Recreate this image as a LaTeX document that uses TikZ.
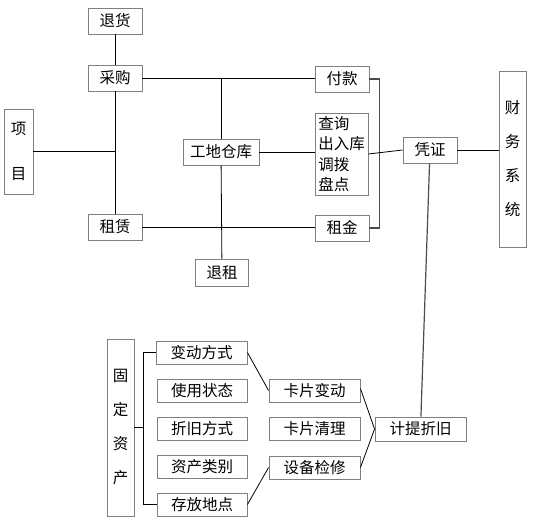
\documentclass[tikz,border=0pt]{standalone}
\usepackage{fontspec}
\setmainfont{Noto Sans CJK SC}
\usetikzlibrary{calc}

\begin{document}
\begin{tikzpicture}[x=1pt,y=-1pt,
  box/.style={draw=gray,line width=0.9pt,inner sep=0pt,align=center,
    font=\fontsize{15.5}{19}\selectfont},
  wire/.style={line width=0.8pt,black},
  gwire/.style={line width=1.2pt,gray!60!black}]
\useasboundingbox (0,0) rectangle (535,527);
% upper part
\node[box,minimum width=54,minimum height=26] (tuihuo) at (115,21) {退货};
\node[box,minimum width=54,minimum height=26] (caigou) at (115,78) {采购};
\node[box,minimum width=29,minimum height=85] (xiangmu) at (18.5,151.5) {项\\[26pt]目};
\node[box,minimum width=76,minimum height=26] (cangku) at (221,152) {工地仓库};
\node[box,minimum width=54,minimum height=26] (zulin) at (115,227) {租赁};
\node[box,minimum width=53,minimum height=27] (tuizu) at (222,272.5) {退租};
\node[box,minimum width=54,minimum height=26] (fukuan) at (342,79) {付款};
\node[box,minimum width=53,minimum height=82,align=left,
  font=\fontsize{15.5}{20.5}\selectfont] (chaxun) at (341.5,154) {查询\\出入库\\调拨\\盘点};
\node[box,minimum width=54,minimum height=26] (zujin) at (342,228) {租金};
\node[box,minimum width=54,minimum height=26] (pingzheng) at (430,150) {凭证};
\node[box,minimum width=27,minimum height=176] (caiwu) at (512.5,159)
  {财\\[15pt]务\\[15pt]系\\[15pt]统};
% lower part
\node[box,minimum width=27,minimum height=177] (guding) at (120.5,427.5)
  {固\\[15pt]定\\[15pt]资\\[15pt]产};
\node[box,minimum width=91,minimum height=23] (biandong) at (201.5,352.5) {变动方式};
\node[box,minimum width=90,minimum height=23] (shiyong) at (202,390.5) {使用状态};
\node[box,minimum width=90,minimum height=23] (zhejiu) at (202,428.5) {折旧方式};
\node[box,minimum width=90,minimum height=23] (leibie) at (202,466.5) {资产类别};
\node[box,minimum width=90,minimum height=23] (didian) at (202,504.5) {存放地点};
\node[box,minimum width=91,minimum height=23] (kpbd) at (314.5,390.5) {卡片变动};
\node[box,minimum width=91,minimum height=23] (kpql) at (314.5,428.5) {卡片清理};
\node[box,minimum width=91,minimum height=23] (jianxiu) at (314.5,467.5) {设备检修};
\node[box,minimum width=91,minimum height=24] (jiti) at (420.5,429) {计提折旧};
% connections
\draw[wire] (tuihuo) -- (caigou);
\draw[wire] (caigou) -- (zulin);
\draw[wire] (xiangmu) -- (xiangmu -| caigou);
\draw[wire] (caigou) -- (caigou -| fukuan.west);
\draw[wire] (cangku.north |- caigou) -- (cangku.north);
\draw[wire] (cangku) -- (tuizu);
\draw[wire] (cangku) -- (cangku -| chaxun.west);
\draw[wire] (zulin) -- (zulin -| zujin.west);
\draw[gwire] (fukuan.east) -- ++(10,0) |- (zujin.east);
\draw[wire] (chaxun.east) -- (pingzheng.west);
\draw[wire] (pingzheng) -- (pingzheng -| caiwu.west);
\draw[gwire] (pingzheng) -- (jiti);
\draw[wire] (guding) -- ++(23.5,0);
\draw[wire] (biandong.west) -- ++(-12,0) |- (didian.west);
\draw[wire] (biandong.east) -- (kpbd.west);
\draw[wire] (didian.east) -- (jianxiu.west);
\draw[wire] ($(kpbd.east)+(0,-2)$) -- (jiti.west);
\draw[wire] (jianxiu.east) -- (jiti.west);
\end{tikzpicture}
\end{document}
